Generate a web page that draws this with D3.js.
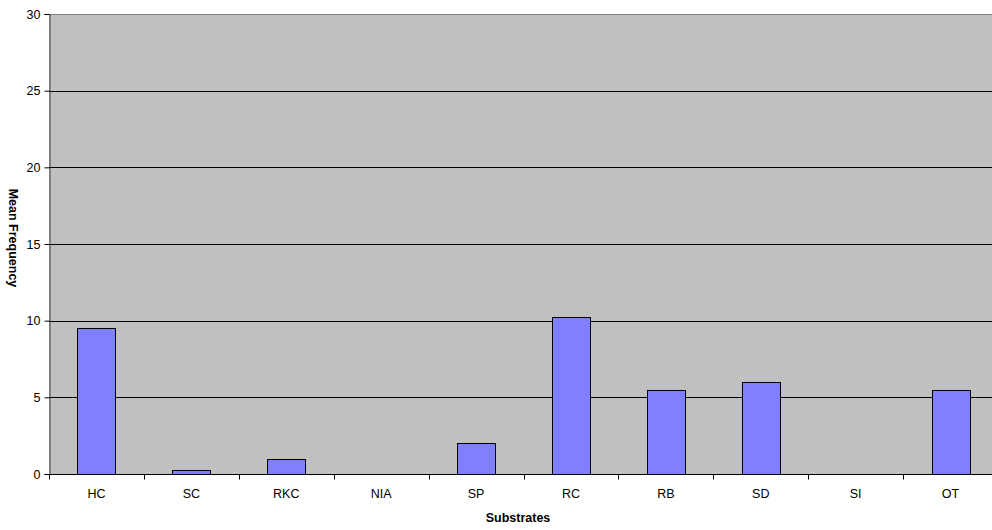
<!DOCTYPE html>
<html>
<head>
<meta charset="utf-8">
<script src="https://cdn.jsdelivr.net/npm/d3@7"></script>
<style>
  html, body { margin: 0; padding: 0; background: #fff; }
  svg { display: block; font-family: "Liberation Sans", Arial, sans-serif; }
</style>
</head>
<body>
<svg id="chart" width="992" height="530"></svg>
<script>
// Mean frequency of each substrate type
const categories = ["HC", "SC", "RKC", "NIA", "SP", "RC", "RB", "SD", "SI", "OT"];
const values = [9.5, 0.25, 1, 0, 2, 10.25, 5.5, 6, 0, 5.5];
const yTicks = [0, 5, 10, 15, 20, 25, 30];

const svg = d3.select("#chart");
const plotLeft = 49, plotTop = 14, plotBottom = 474;
const bandW = 94.9;
const plotRight = plotLeft + bandW * categories.length;

const x = d3.scaleBand().domain(categories).range([plotLeft, plotRight]).paddingInner(0).paddingOuter(0);
const y = d3.scaleLinear().domain([0, 30]).range([plotBottom, plotTop]);

// plot background
svg.append("rect")
  .attr("x", plotLeft).attr("y", plotTop)
  .attr("width", plotRight - plotLeft).attr("height", plotBottom - plotTop)
  .attr("fill", "#c0c0c0");

// top border
svg.append("line")
  .attr("x1", plotLeft).attr("x2", plotRight)
  .attr("y1", plotTop + 0.5).attr("y2", plotTop + 0.5)
  .attr("stroke", "#808080").attr("stroke-width", 1);

// horizontal gridlines
svg.append("g").selectAll("line")
  .data(yTicks.filter(t => t > 0 && t < 30))
  .join("line")
  .attr("x1", plotLeft).attr("x2", plotRight)
  .attr("y1", d => Math.round(y(d)) + 0.5).attr("y2", d => Math.round(y(d)) + 0.5)
  .attr("stroke", "#000").attr("stroke-width", 1);

// bars
const bw = x.bandwidth() * 0.4;
svg.append("g").selectAll("rect")
  .data(categories.map((c, i) => ({ c, v: values[i] })).filter(d => d.v > 0))
  .join("rect")
  .attr("x", d => Math.round(x(d.c) + (x.bandwidth() - bw) / 2) + 0.5)
  .attr("width", Math.round(bw))
  .attr("y", d => Math.round(y(d.v)) + 0.5)
  .attr("height", d => plotBottom - Math.round(y(d.v)))
  .attr("fill", "#8080ff")
  .attr("stroke", "#000")
  .attr("stroke-width", 1);

// y axis
const yAxis = svg.append("g")
  .attr("transform", `translate(${plotLeft + 0.5},0)`)
  .call(d3.axisLeft(y).tickValues(yTicks).tickSize(5).tickPadding(4).tickFormat(d3.format("d")));
yAxis.select(".domain").attr("stroke", "#404040");
yAxis.selectAll(".tick line").attr("stroke", "#000");
yAxis.selectAll("text")
  .attr("font-family", "Liberation Sans, Arial, sans-serif")
  .attr("font-size", 12.5).attr("fill", "#000");

// x axis: ticks on category boundaries
const xAxis = svg.append("g").attr("transform", `translate(0,${plotBottom + 0.5})`);
xAxis.append("line")
  .attr("x1", plotLeft).attr("x2", plotRight)
  .attr("stroke", "#000").attr("stroke-width", 1);
xAxis.selectAll("line.tk")
  .data(d3.range(categories.length + 1))
  .join("line")
  .attr("class", "tk")
  .attr("x1", i => Math.round(plotLeft + i * bandW) + 0.5)
  .attr("x2", i => Math.round(plotLeft + i * bandW) + 0.5)
  .attr("y1", 0).attr("y2", 5)
  .attr("stroke", "#000");
xAxis.selectAll("text")
  .data(categories)
  .join("text")
  .attr("x", d => x(d) + x.bandwidth() / 2)
  .attr("y", 23)
  .attr("text-anchor", "middle")
  .attr("font-size", 12.5)
  .attr("fill", "#000")
  .text(d => d);

// axis titles
svg.append("text")
  .attr("x", 518).attr("y", 522)
  .attr("text-anchor", "middle")
  .attr("font-size", 12.5).attr("font-weight", "bold")
  .text("Substrates");

svg.append("text")
  .attr("transform", `translate(9,238) rotate(90)`)
  .attr("text-anchor", "middle")
  .attr("font-size", 12.5).attr("font-weight", "bold")
  .text("Mean Frequency");
</script>
</body>
</html>
